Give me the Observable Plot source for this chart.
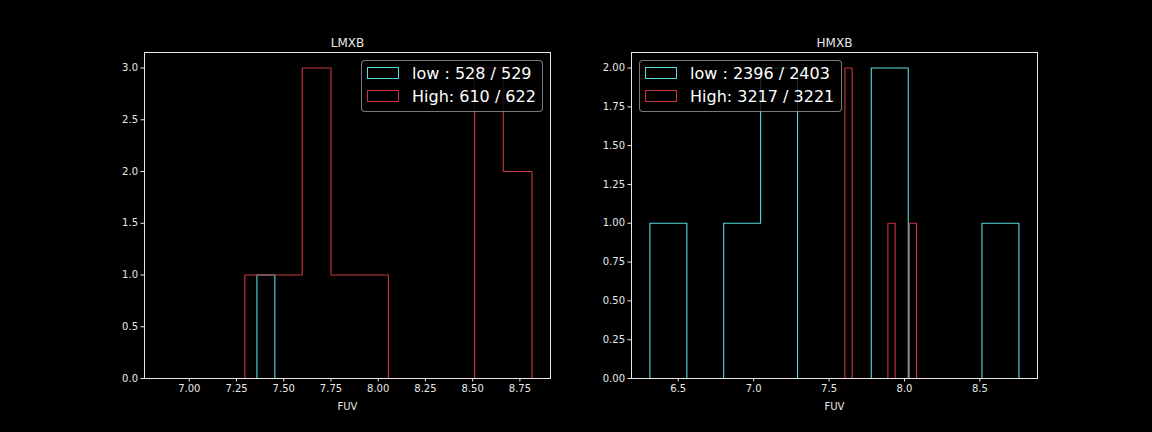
<!DOCTYPE html>
<html>
<head>
<meta charset="utf-8">
<script src="https://cdn.jsdelivr.net/npm/d3@7"></script>
<script src="https://cdn.jsdelivr.net/npm/@observablehq/plot@0.6"></script>
<style>
  html, body { margin: 0; padding: 0; background: #000; }
  #wrap { position: relative; width: 1152px; height: 432px; background: #000; overflow: hidden; font-family: "DejaVu Sans", sans-serif; }
  .panel { position: absolute; top: 0; }
  .legend { position: absolute; background: rgba(0,0,0,0.8); border: 1px solid rgba(204,204,204,0.6); border-radius: 4px; box-sizing: border-box; }
  .row { position: absolute; left: 0; height: 20px; display: flex; align-items: center; white-space: nowrap; color: #fff; font-size: 16px; font-family: "DejaVu Sans", sans-serif; }
  .sw { width: 32px; height: 12px; box-sizing: border-box; border: 1px solid; margin-left: 5px; margin-right: 13px; }
</style>
</head>
<body>
<div id="wrap"></div>
<script>
// ---- data ----
const cyan = "#55dbde";
const red = "#c8363f";

// LMXB
const lmxbLowEdges = [7.358, 7.453];
const lmxbLowCounts = [1];
const lmxbHighEdges = [7.294, 7.446, 7.598, 7.750, 7.902, 8.054, 8.206, 8.358, 8.510, 8.662, 8.814];
const lmxbHighCounts = [1, 1, 3, 1, 1, 0, 0, 0, 3, 2];
const lmxbXTicks = [7.00, 7.25, 7.50, 7.75, 8.00, 8.25, 8.50, 8.75];
const lmxbYTicks = [0, 0.5, 1.0, 1.5, 2.0, 2.5, 3.0];
const lmxbLegend = ["low : 528 / 529", "High: 610 / 622"];

// HMXB
const hmxbLowEdges = [6.312, 6.557, 6.801, 7.046, 7.291, 7.535, 7.780, 8.025, 8.269, 8.514, 8.759];
const hmxbLowCounts = [1, 0, 1, 2, 0, 0, 2, 0, 0, 1];
const hmxbHighEdges = [7.605, 7.653, 7.700, 7.748, 7.795, 7.843, 7.890, 7.938, 7.985, 8.033, 8.080];
const hmxbHighCounts = [2, 0, 0, 0, 0, 0, 1, 0, 0, 1];
const hmxbXTicks = [6.5, 7.0, 7.5, 8.0, 8.5];
const hmxbYTicks = [0, 0.25, 0.5, 0.75, 1.0, 1.25, 1.5, 1.75, 2.0];
const hmxbLegend = ["low : 2396 / 2403", "High: 3217 / 3221"];

function stepPoints(edges, counts) {
  const pts = [{x: edges[0], y: 0}];
  counts.forEach((c, i) => {
    pts.push({x: edges[i], y: c});
    pts.push({x: edges[i + 1], y: c});
  });
  pts.push({x: edges[edges.length - 1], y: 0});
  return pts;
}

const fg = "#e8e8e8";

function panel({title, low, high, xDomain, yDomain, xTicks, yTicks, xFmt, yFmt, width, ml, mr}) {
  return Plot.plot({
    width, height: 432,
    marginLeft: ml, marginRight: mr, marginTop: 52, marginBottom: 54,
    style: {background: "transparent", color: fg, fontFamily: "DejaVu Sans, sans-serif", fontSize: "10px"},
    x: {domain: xDomain},
    y: {domain: yDomain},
    marks: [
      Plot.line(stepPoints(low.edges, low.counts), {x: "x", y: "y", stroke: cyan, strokeWidth: 1.1}),
      Plot.line(stepPoints(high.edges, high.counts), {x: "x", y: "y", stroke: red, strokeWidth: 1.1}),
      Plot.frame({stroke: fg, strokeWidth: 1}),
      Plot.axisX({ticks: xTicks, tickFormat: d3.format(xFmt), tickSize: 3.5, tickPadding: 3, stroke: fg, fill: fg, fontSize: 10, label: null}),
      Plot.axisY({ticks: yTicks, tickFormat: d3.format(yFmt), tickSize: 3.5, tickPadding: 3, stroke: fg, fill: fg, fontSize: 10, label: null}),
      Plot.text([title], {frameAnchor: "top", dy: -6, lineAnchor: "bottom", text: d => d, fill: fg, fontSize: 12}),
      Plot.text(["FUV"], {frameAnchor: "bottom", dy: 28, lineAnchor: "middle", text: d => d, fill: fg, fontSize: 10})
    ]
  });
}

const wrap = document.getElementById("wrap");

function addPanel(svg, left) {
  const d = document.createElement("div");
  d.className = "panel";
  d.style.left = left + "px";
  d.appendChild(svg);
  wrap.appendChild(d);
}

function addLegend(labels, left, top, w, h) {
  const lg = document.createElement("div");
  lg.className = "legend";
  lg.style.left = left + "px"; lg.style.top = top + "px";
  lg.style.width = w + "px"; lg.style.height = h + "px";
  [[cyan, labels[0], 2], [red, labels[1], 25]].forEach(([c, t, y]) => {
    const r = document.createElement("div");
    r.className = "row";
    r.style.top = y + "px";
    const s = document.createElement("div");
    s.className = "sw"; s.style.borderColor = c;
    const tx = document.createElement("span");
    tx.textContent = t;
    r.appendChild(s); r.appendChild(tx);
    lg.appendChild(r);
  });
  wrap.appendChild(lg);
}

addPanel(panel({
  title: "LMXB",
  low: {edges: lmxbLowEdges, counts: lmxbLowCounts},
  high: {edges: lmxbHighEdges, counts: lmxbHighCounts},
  xDomain: [6.763, 8.912], yDomain: [0, 3.15],
  xTicks: lmxbXTicks, yTicks: lmxbYTicks, xFmt: ".2f", yFmt: ".1f",
  width: 576, ml: 144, mr: 26
}), 0);

addPanel(panel({
  title: "HMXB",
  low: {edges: hmxbLowEdges, counts: hmxbLowCounts},
  high: {edges: hmxbHighEdges, counts: hmxbHighCounts},
  xDomain: [6.19, 8.882], yDomain: [0, 2.1],
  xTicks: hmxbXTicks, yTicks: hmxbYTicks, xFmt: ".1f", yFmt: ".2f",
  width: 576, ml: 55, mr: 115
}), 576);

addLegend(lmxbLegend, 361, 60, 182, 52);
addLegend(hmxbLegend, 639, 60, 203, 52);
</script>
</body>
</html>
